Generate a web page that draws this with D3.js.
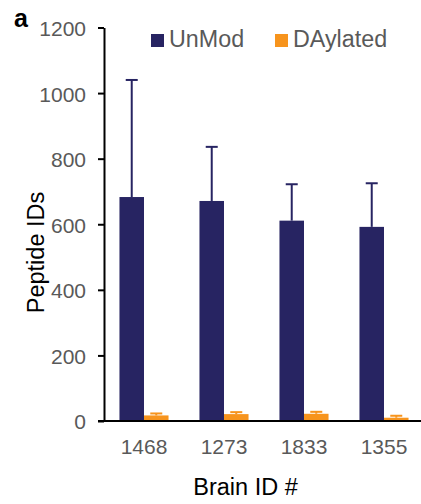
<!DOCTYPE html>
<html><head><meta charset="utf-8">
<script src="https://cdn.jsdelivr.net/npm/d3@7"></script>
<style>
html,body{margin:0;padding:0;background:#fff;}
svg{display:block;font-family:Arial,"Liberation Sans",sans-serif;}
</style></head>
<body>
<svg id="chart" width="421" height="504"></svg>
<script>
const categories = ["1468", "1273", "1833", "1355"];
const seriesNames = ["UnMod", "DAylated"];
const unmodValues = [683, 671, 611, 592];
const unmodErrors = [357, 165, 111, 133];
const daylatedValues = [17, 21, 22, 10];
const daylatedErrors = [6, 6, 6, 6];
const yTicks = [0, 200, 400, 600, 800, 1000, 1200];
const colors = ["#272462", "#F7941D"];

const svg = d3.select("#chart");
const x = d3.scaleBand().domain(categories).range([104, 424]).paddingInner(0).paddingOuter(0);
const xs = d3.scaleBand().domain(seriesNames).range([0, x.bandwidth()]).paddingInner(0).paddingOuter(0.63);
const y = d3.scaleLinear().domain([0, 1200]).range([421, 27.5]);

const series = [
  {name: seriesNames[0], values: unmodValues, errors: unmodErrors, color: colors[0]},
  {name: seriesNames[1], values: daylatedValues, errors: daylatedErrors, color: colors[1]}
];

// bars
series.forEach(s => {
  const g = svg.append("g");
  g.selectAll("rect").data(categories).join("rect")
    .attr("x", (c) => x(c) + xs(s.name))
    .attr("y", (c, i) => y(s.values[i]))
    .attr("width", xs.bandwidth())
    .attr("height", (c, i) => y(0) - y(s.values[i]))
    .attr("fill", s.color);
  // error bars
  const eg = svg.append("g").attr("stroke", s.color).attr("stroke-width", 2);
  categories.forEach((c, i) => {
    const cx = x(c) + xs(s.name) + xs.bandwidth() / 2;
    const top = y(s.values[i] + s.errors[i]);
    eg.append("line").attr("x1", cx).attr("x2", cx).attr("y1", y(s.values[i])).attr("y2", top);
    eg.append("line").attr("x1", cx - 6).attr("x2", cx + 6).attr("y1", top).attr("y2", top);
  });
});

// y axis
const yAxis = d3.axisLeft(y).tickValues(yTicks).tickSize(6).tickSizeOuter(0).tickPadding(12).tickFormat(d3.format("d"));
const yg = svg.append("g").attr("transform", "translate(104,0)").call(yAxis);
yg.select(".domain").attr("stroke", "#000").attr("stroke-width", 2);
yg.selectAll(".tick line").attr("stroke", "#000").attr("stroke-width", 2);
yg.selectAll(".tick text").attr("font-size", 21).attr("fill", "#595959").attr("font-family", "Arial, 'Liberation Sans', sans-serif").attr("dy", "0.38em");

// x axis
const xAxis = d3.axisBottom(x).tickSize(0).tickSizeOuter(0).tickPadding(18);
const xg = svg.append("g").attr("transform", "translate(0,421)").call(xAxis);
xg.select(".domain").remove();
xg.append("line").attr("x1", 98).attr("x2", 424).attr("y1", 0).attr("y2", 0).attr("stroke", "#000").attr("stroke-width", 2);
xg.selectAll(".tick text").attr("font-size", 21).attr("fill", "#595959").attr("font-family", "Arial, 'Liberation Sans', sans-serif");

// axis titles
svg.append("text").attr("transform", "translate(43.5,252.5) rotate(-90)")
  .attr("text-anchor", "middle").attr("font-size", 23.5).attr("fill", "#000").text("Peptide IDs");
svg.append("text").attr("x", 245.5).attr("y", 495)
  .attr("text-anchor", "middle").attr("font-size", 23.5).attr("fill", "#000").text("Brain ID #");

// panel label
svg.append("text").attr("x", 14).attr("y", 26.5).attr("font-size", 25).attr("font-weight", "bold").attr("fill", "#000").text("a");

// legend
const legendX = [151, 275];
series.forEach((s, i) => {
  svg.append("rect").attr("x", legendX[i]).attr("y", 34).attr("width", 13).attr("height", 13).attr("fill", s.color);
  svg.append("text").attr("x", legendX[i] + 18).attr("y", 47.3).attr("font-size", 23.3).attr("fill", "#595959").text(s.name);
});
</script>
</body></html>
